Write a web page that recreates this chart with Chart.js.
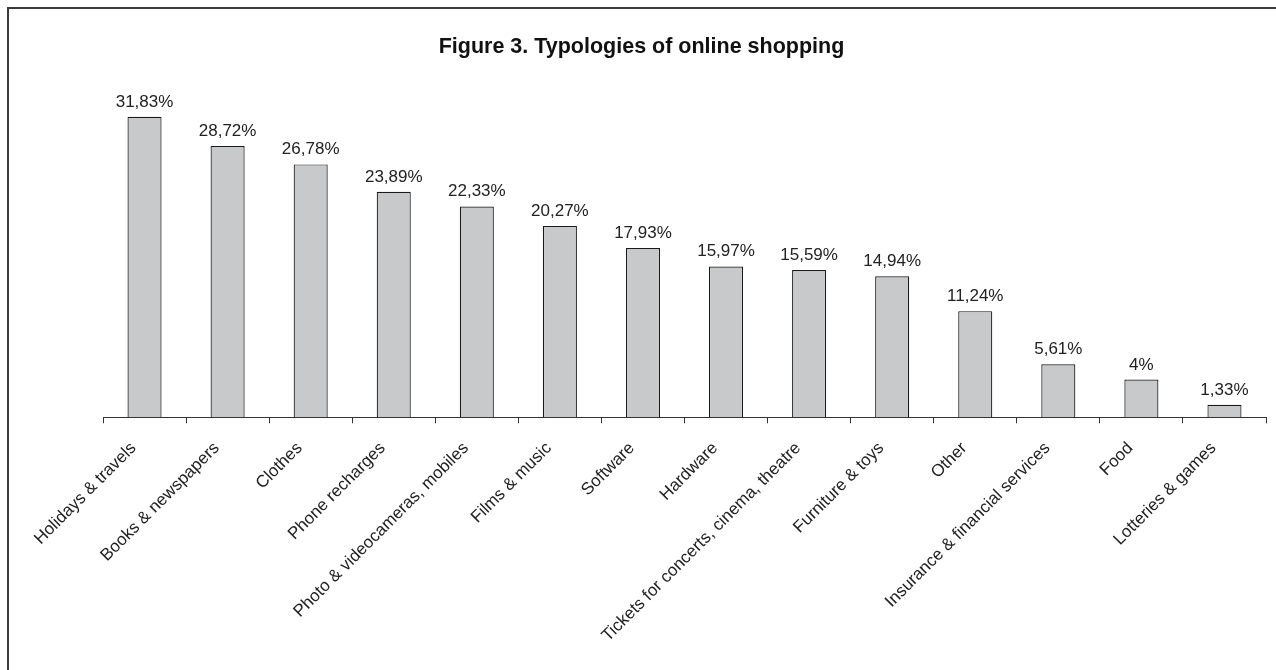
<!DOCTYPE html>
<html>
<head>
<meta charset="utf-8">
<script src="https://cdn.jsdelivr.net/npm/chart.js@4.4.1/dist/chart.umd.min.js"></script>
<style>
    body { margin: 0; background: #fff; }
    #wrap { position: relative; width: 1276px; height: 670px; }
    #frame { position: absolute; left: 7px; top: 7px; right: 0; bottom: 0; border-left: 2px solid #3a3a3a; border-top: 2px solid #3a3a3a; pointer-events: none; }
    canvas { position: absolute; left: 0; top: 0; }
</style>
</head>
<body>
<div id="wrap">
    <canvas id="chart" width="1276" height="670"></canvas>
    <div id="frame"></div>
</div>
<script>
var categories = ["Holidays & travels", "Books & newspapers", "Clothes", "Phone recharges",
    "Photo & videocameras, mobiles", "Films & music", "Software", "Hardware",
    "Tickets for concerts, cinema, theatre", "Furniture & toys", "Other",
    "Insurance & financial services", "Food", "Lotteries & games"];
var shares = [31.83, 28.72, 26.78, 23.89, 22.33, 20.27, 17.93, 15.97, 15.59, 14.94, 11.24, 5.61, 4, 1.33];
var titleText = "Figure 3. Typologies of online shopping";

// value labels above each bar
var valueLabels = {
    id: "valueLabels",
    afterDatasetsDraw(chart) {
        let ctx = chart.ctx;
        let meta = chart.getDatasetMeta(0);
        ctx.save();
        ctx.font = "17px 'Liberation Sans', Arial, sans-serif";
        ctx.fillStyle = "#222";
        ctx.textAlign = "center";
        ctx.textBaseline = "alphabetic";
        meta.data.forEach((bar, i) => {
            let txt = String(shares[i]).replace(".", ",") + "%";
            ctx.fillText(txt, bar.x, bar.y - 10);
        });
        ctx.restore();
    }
};

new Chart(document.getElementById("chart"), {
    type: "bar",
    data: {
        labels: categories,
        datasets: [{
            data: shares,
            backgroundColor: "#c8c9cb",
            borderColor: "#1a1a1a",
            borderWidth: 1.2,
            barPercentage: 0.41,
            categoryPercentage: 1
        }]
    },
    options: {
        responsive: false,
        animation: false,
        layout: { padding: { left: 17, right: 10, top: 0, bottom: 9 } },
        plugins: {
            legend: { display: false },
            tooltip: { enabled: false },
            title: {
                display: true,
                text: titleText,
                color: "#111",
                font: { family: "'Liberation Sans', Arial, sans-serif", size: 21.5, weight: "bold" },
                padding: { top: 34, bottom: 27 }
            }
        },
        scales: {
            x: {
                border: { display: true, color: "#333", width: 1 },
                grid: { offset: true, drawOnChartArea: false, drawTicks: true, tickLength: 6, color: "#333" },
                ticks: {
                    maxRotation: 45,
                    minRotation: 45,
                    autoSkip: false,
                    padding: 15,
                    labelOffset: -11,
                    color: "#222",
                    font: { family: "'Liberation Sans', Arial, sans-serif", size: 17 }
                }
            },
            y: {
                min: 0,
                max: 35,
                border: { display: false },
                grid: { display: false },
                ticks: { display: false },
                afterFit(scale) { scale.width = 86; }
            }
        }
    },
    plugins: [valueLabels]
});
</script>
</body>
</html>
